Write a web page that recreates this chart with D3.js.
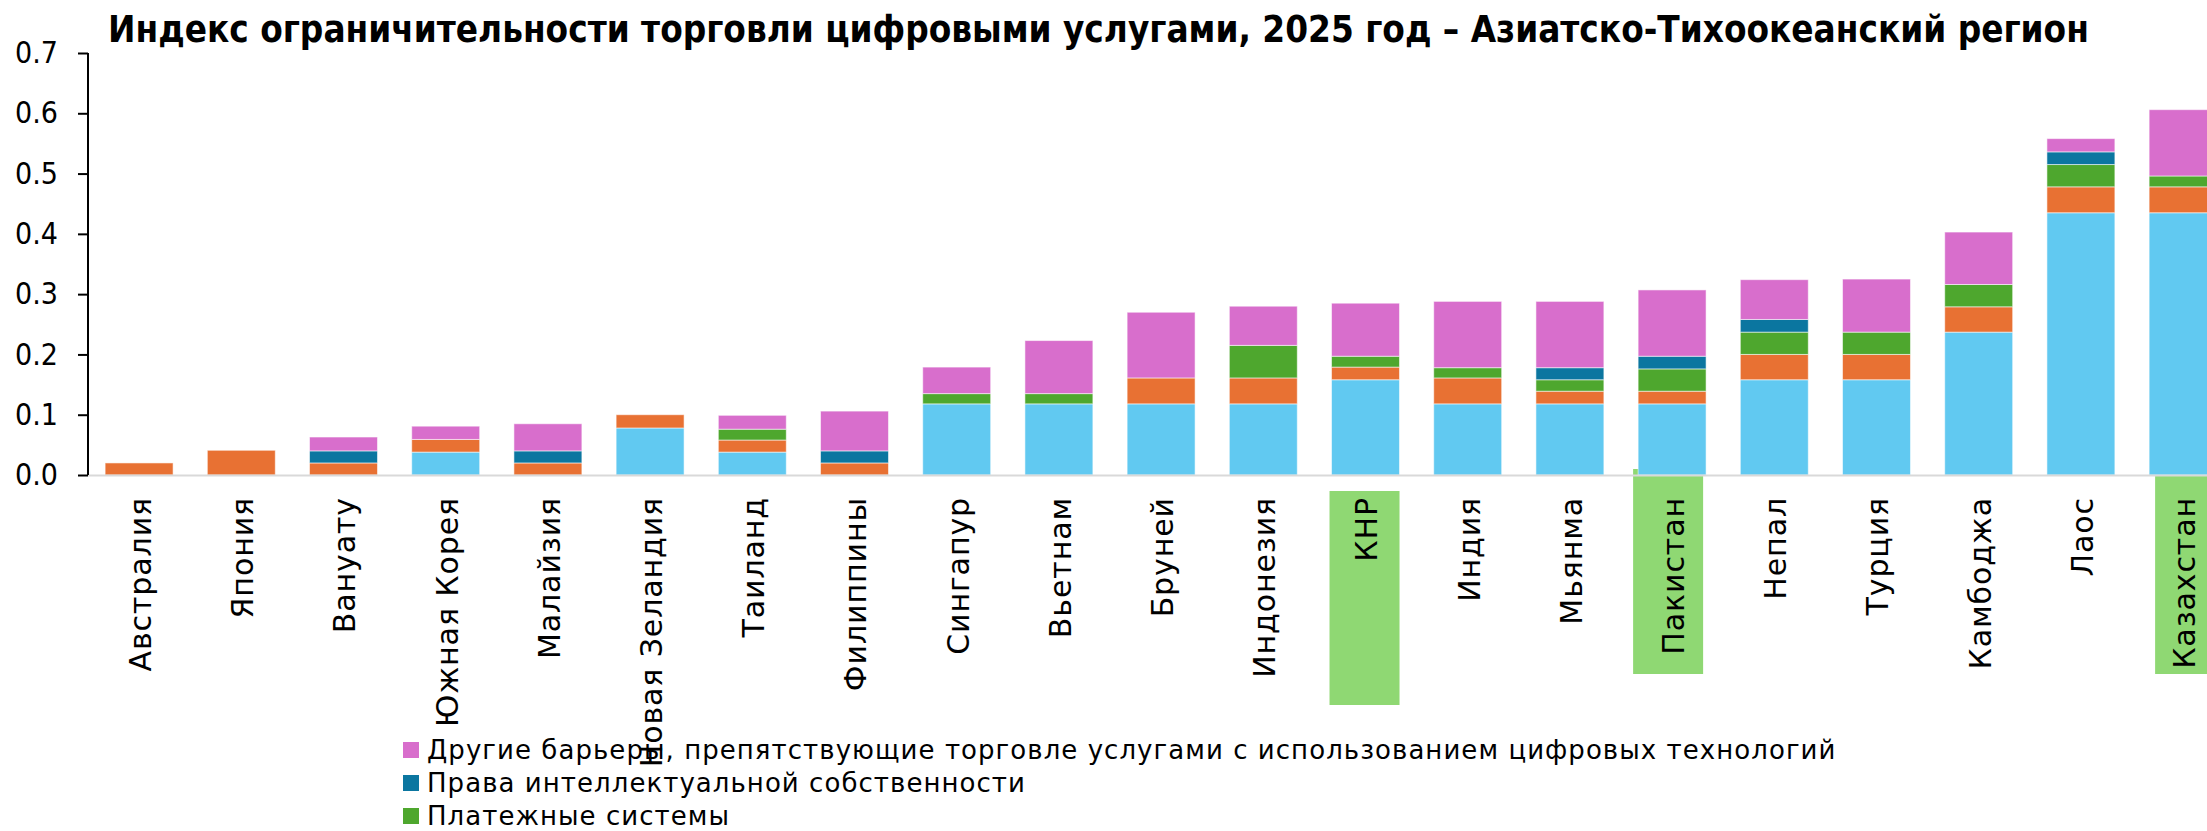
<!DOCTYPE html>
<html>
<head>
<meta charset="utf-8">
<script src="https://cdn.jsdelivr.net/npm/d3@7"></script>
<style>
  body { margin: 0; background: #fff; }
  svg { display: block; }
  .axis text { font-family: "DejaVu Sans Condensed", "DejaVu Sans"; font-stretch: condensed; }
</style>
</head>
<body>
<div id="chart"></div>
<script>
var W = 2207, H = 831;
var margin = {top: 53, left: 88};

// countries, in chart order
var countries = ["Австралия", "Япония", "Вануату", "Южная Корея", "Малайзия", "Новая Зеландия",
  "Таиланд", "Филиппины", "Сингапур", "Вьетнам", "Бруней", "Индонезия", "КНР", "Индия",
  "Мьянма", "Пакистан", "Непал", "Турция", "Камбоджа", "Лаос", "Казахстан"];

// series values, bottom to top of each stack
var infra    = [0, 0, 0, 0.038, 0, 0.078, 0.038, 0, 0.118, 0.118, 0.118, 0.118, 0.158, 0.118, 0.118, 0.118, 0.158, 0.158, 0.237, 0.435, 0.435];
var etrans   = [0.02, 0.041, 0.02, 0.021, 0.02, 0.022, 0.02, 0.02, 0, 0, 0.043, 0.043, 0.021, 0.043, 0.021, 0.021, 0.042, 0.042, 0.042, 0.043, 0.043];
var payments = [0, 0, 0, 0, 0, 0, 0.018, 0, 0.017, 0.017, 0, 0.054, 0.018, 0.017, 0.019, 0.037, 0.037, 0.037, 0.037, 0.037, 0.018];
var ipr      = [0, 0, 0.02, 0, 0.02, 0, 0, 0.02, 0, 0, 0, 0, 0, 0, 0.02, 0.021, 0.021, 0, 0, 0.021, 0];
var other    = [0, 0, 0.023, 0.022, 0.045, 0, 0.023, 0.066, 0.044, 0.088, 0.109, 0.065, 0.088, 0.11, 0.11, 0.11, 0.066, 0.088, 0.087, 0.022, 0.11];

var seriesKeys = ["infra", "etrans", "payments", "ipr", "other"];
var seriesNames = ["Инфраструктура и связность", "Электронные транзакции", "Платежные системы",
  "Права интеллектуальной собственности",
  "Другие барьеры, препятствующие торговле услугами с использованием цифровых технологий"];
var colors = ["#61C9F1", "#E87133", "#4EA72E", "#0B76A0", "#D86ECC"];

var yTicks = [0, 0.1, 0.2, 0.3, 0.4, 0.5, 0.6, 0.7];
var highlighted = ["КНР", "Пакистан", "Казахстан"];

var title = "Индекс ограничительности торговли цифровыми услугами, 2025 год – Азиатско-Тихоокеанский регион";

// build rows for d3.stack
var rows = countries.map(function(c, i) {
  return {country: c, infra: infra[i], etrans: etrans[i], payments: payments[i], ipr: ipr[i], other: other[i]};
});
var stacked = d3.stack().keys(seriesKeys)(rows);

var svg = d3.select("#chart").append("svg")
  .attr("width", W).attr("height", H);

var step = 102.2;
var x = d3.scaleBand()
  .domain(countries)
  .range([margin.left, margin.left + step * countries.length])
  .paddingInner(0.335)
  .paddingOuter(0.1675);

var y = d3.scaleLinear()
  .domain([0, 0.7])
  .range([475, margin.top]);

// title
svg.append("text")
  .attr("x", 108).attr("y", 42)
  .style("font-family", "'DejaVu Sans Condensed', 'DejaVu Sans'")
  .style("font-stretch", "condensed")
  .style("font-weight", "bold")
  .style("font-size", "36.5px")
  .text(title);

// green highlight boxes behind labels
var boxGeom = {"КНР": [491, 705, -2], "Пакистан": [469, 674, -5], "Казахстан": [476, 674, 6]};
svg.append("g").selectAll("rect")
  .data(highlighted)
  .enter().append("rect")
    .attr("x", function(d) { return x(d) + boxGeom[d][2]; })
    .attr("y", function(d) { return boxGeom[d][0]; })
    .attr("width", 70)
    .attr("height", function(d) { return boxGeom[d][1] - boxGeom[d][0]; })
    .attr("fill", "#8FD873");

// bars
svg.append("g").selectAll("g")
  .data(stacked)
  .enter().append("g")
    .attr("fill", function(d, i) { return colors[i]; })
  .selectAll("rect")
  .data(function(d) { return d.filter(function(p) { return p[1] - p[0] > 0; }); })
  .enter().append("rect")
    .attr("x", function(d) { return x(d.data.country); })
    .attr("y", function(d) { return y(d[1]); })
    .attr("width", x.bandwidth())
    .attr("height", function(d) { return y(d[0]) - y(d[1]); })
    .attr("stroke", "#fff")
    .attr("stroke-opacity", 0.55)
    .attr("stroke-width", 1);

// x baseline
svg.append("line")
  .attr("x1", margin.left).attr("x2", W)
  .attr("y1", 475.5).attr("y2", 475.5)
  .attr("stroke", "#d9d9d9").attr("stroke-width", 2);

// x labels, rotated
svg.append("g").selectAll("text")
  .data(countries)
  .enter().append("text")
    .attr("transform", function(d) { return "translate(" + (x(d) + x.bandwidth() / 2 + 1) + ",497) rotate(-90)"; })
    .attr("text-anchor", "end")
    .attr("dy", "0.36em")
    .style("font-family", "'DejaVu Sans'")
    .style("font-size", "30px")
    .style("letter-spacing", "0.9px")
    .text(function(d) { return d; });

// y axis
var yAxis = d3.axisLeft(y).tickValues(yTicks).tickFormat(d3.format(".1f")).tickSize(10).tickPadding(20);
var ga = svg.append("g")
  .attr("class", "axis")
  .attr("transform", "translate(" + margin.left + ",0)")
  .call(yAxis);
ga.select(".domain").attr("stroke", "#000").attr("stroke-width", 2)
  .attr("d", "M0," + y(0.7) + "V" + y(0));
ga.selectAll(".tick line").attr("stroke", "#000").attr("stroke-width", 2);
ga.selectAll(".tick text").style("font-size", "30px").attr("fill", "#000");

// legend: top series first, as many rows as fit
var legendOrder = [4, 3, 2, 1, 0];
var lg = svg.append("g");
legendOrder.forEach(function(si, r) {
  var cy = 750 + r * 33;
  if (cy + 10 > H) return;
  lg.append("rect")
    .attr("x", 403).attr("y", cy - 8)
    .attr("width", 16).attr("height", 16)
    .attr("fill", colors[si]);
  lg.append("text")
    .attr("x", 427).attr("y", cy)
    .attr("dy", "0.36em")
    .style("font-family", "'DejaVu Sans'")
    .style("font-size", "26px")
    .style("letter-spacing", "1.05px")
    .text(seriesNames[si]);
});
</script>
</body>
</html>
